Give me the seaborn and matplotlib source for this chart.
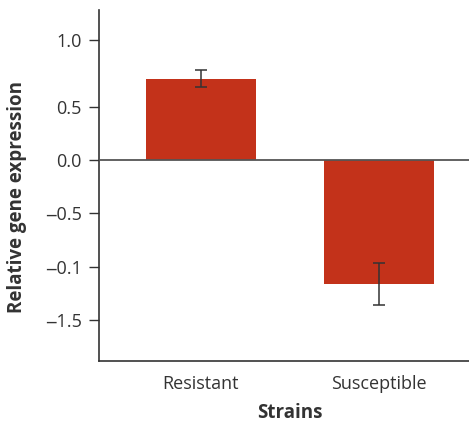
import matplotlib
matplotlib.use("Agg")
import matplotlib.pyplot as plt
import seaborn as sns
import pandas as pd

# Data
strains = ["Resistant", "Susceptible"]
expression = [0.76, -1.16]
errors = [0.08, 0.195]

# Y-axis tick positions and their printed labels
ytick_pos = [1.125, 0.5, 0.0, -0.5, -1.0, -1.5]
ytick_labels = ["1.0", "0.5", "0.0", "\u20120.5", "\u20120.1", "\u20121.5"]

bar_color = "#C3321A"
ink = "#333333"

sns.set_theme(style="white")
plt.rcParams["font.family"] = ["Open Sans", "DejaVu Sans"]

fig = plt.figure(figsize=(4.69, 4.23), dpi=100)
W, H = 469, 423
ax = fig.add_axes([99 / W, (H - 361) / H, (469 - 99) / W, (361 - 10) / H])

df = pd.DataFrame({"Strain": strains, "Expression": expression})
sns.barplot(data=df, x="Strain", y="Expression", color=bar_color,
            saturation=1, width=0.618, errorbar=None, ax=ax, linewidth=0)

ax.errorbar(range(len(strains)), expression, yerr=errors, fmt="none",
            ecolor=ink, elinewidth=1.1, capsize=4.2, capthick=1.1, zorder=5)

ax.axhline(0, color="#555555", linewidth=1.3, zorder=4)

ax.set_xlim(-0.573, 1.506)
ax.set_ylim(-1.884, 1.406)

ax.set_yticks(ytick_pos)
ax.set_yticklabels(ytick_labels)

for s in ["top", "right"]:
    ax.spines[s].set_visible(False)
for s in ["left", "bottom"]:
    ax.spines[s].set_color(ink)
    ax.spines[s].set_linewidth(1.2)

ax.tick_params(axis="y", which="both", left=True, direction="out", length=7.5,
               width=1.0, color=ink, labelsize=13, labelcolor=ink, pad=5)
ax.tick_params(axis="x", bottom=False, labelsize=13, labelcolor=ink, pad=4)

ax.set_xlabel("Strains", fontsize=13.5, fontweight="bold", color=ink)
ax.xaxis.set_label_coords((290 - 99) / 370, -(413 - 361) / 351)
ax.set_ylabel("Relative gene expression", fontsize=13.5, fontweight="bold", color=ink)
ax.yaxis.set_label_coords(-(99 - 17) / 370, (361 - 197) / 351)
ax.xaxis.label.set_va("center")
ax.yaxis.label.set_va("center")

fig.savefig("out.png", dpi=100)
